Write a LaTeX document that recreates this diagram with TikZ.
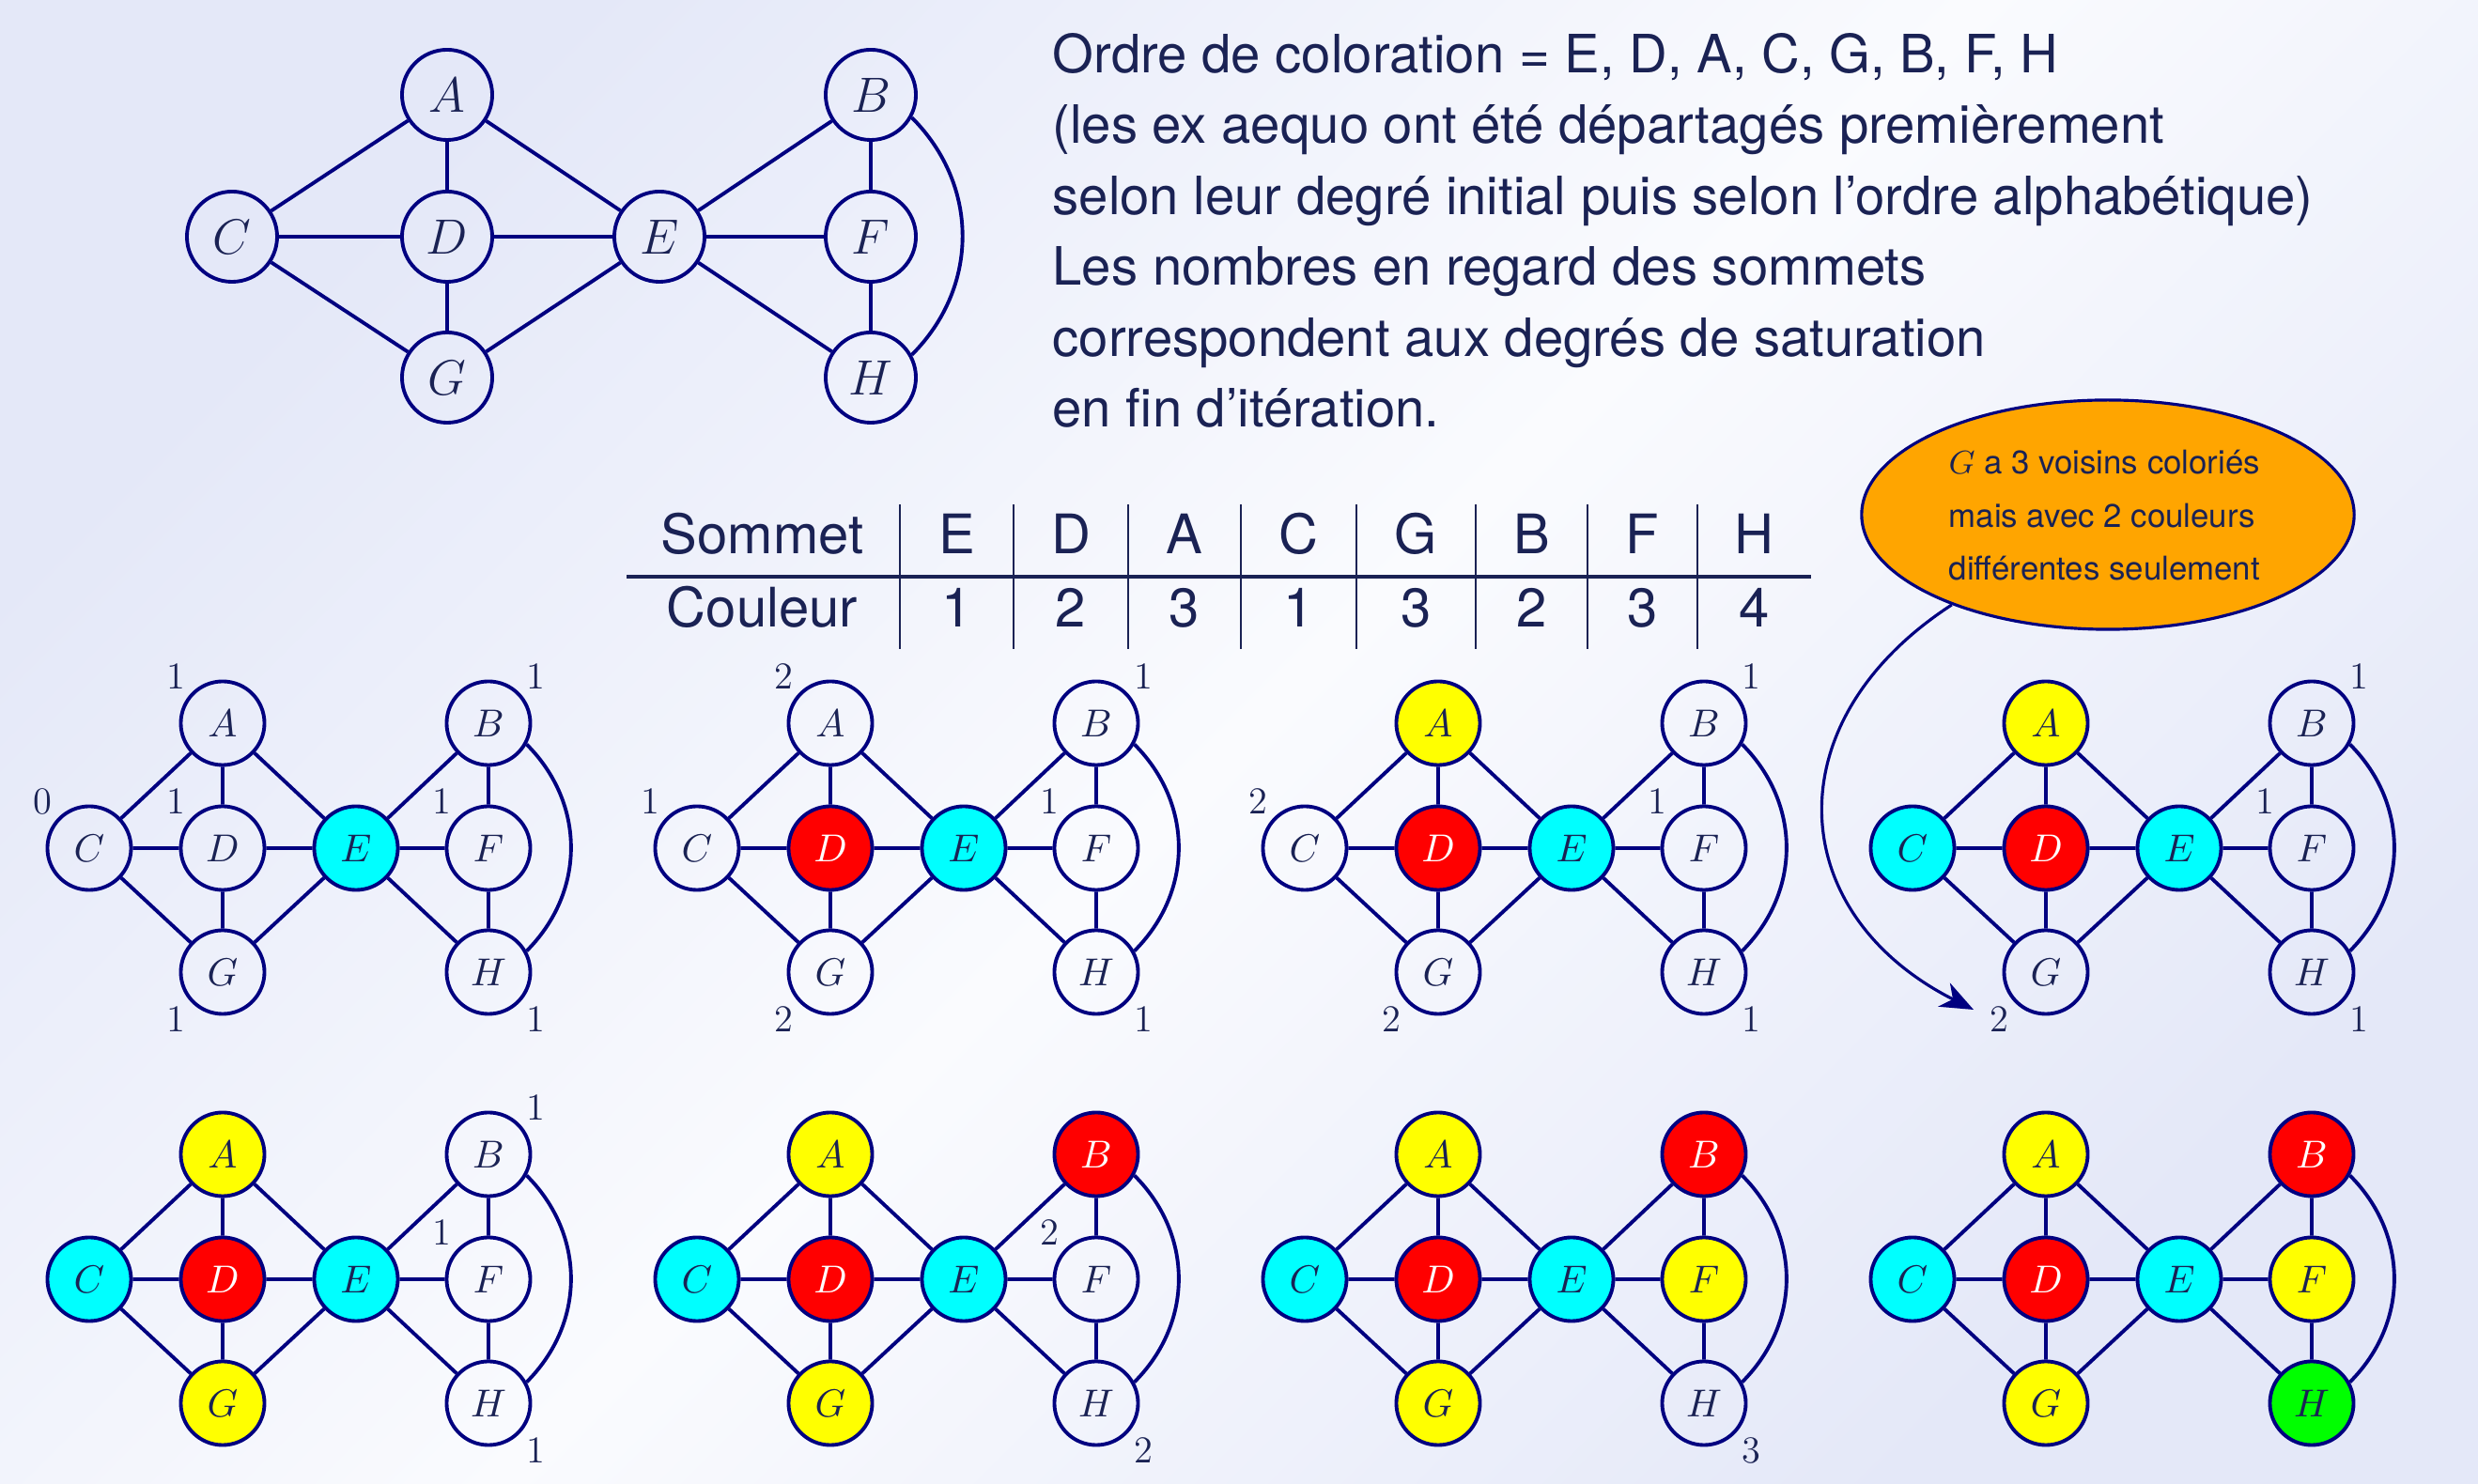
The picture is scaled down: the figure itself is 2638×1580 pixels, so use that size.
\RequirePackage{fix-cm}
\documentclass[tikz,border=0pt]{standalone}
\usepackage{fontspec}
\newfontfamily\helv{TeX Gyre Heros}
\usetikzlibrary{arrows.meta,shapes.geometric}
\definecolor{navyc}{RGB}{0,0,128}
\definecolor{txt}{RGB}{26,34,84}
\definecolor{bgc}{RGB}{228,232,248}
\definecolor{bgm}{RGB}{250,251,254}
\definecolor{orng}{RGB}{255,165,0}
\definecolor{cyanc}{RGB}{0,255,255}
\definecolor{yelc}{RGB}{255,255,0}
\definecolor{redc}{RGB}{255,0,0}
\definecolor{grnc}{RGB}{0,255,0}
\tikzset{
  sv/.style={circle, draw=navyc, line width=1.1pt, minimum size=0.89cm, inner sep=0pt, text=txt, font=\fontsize{11.8}{14}\selectfont},
  bv/.style={sv, minimum size=0.96cm, font=\fontsize{15}{18}\selectfont},
  arete/.style={draw=navyc, line width=1.1pt},
  w/.style={}, cy/.style={fill=cyanc}, rd/.style={fill=redc,text=white}, ye/.style={fill=yelc}, gr/.style={fill=grnc},
  dlab/.style={text=txt, font=\fontsize{11.5}{14}\selectfont, inner sep=0pt},
  ligne/.style={anchor=base west, text=txt, inner sep=0pt, font=\helv\fontsize{16}{20}\selectfont},
  cell/.style={anchor=base, text=txt, inner sep=0pt, font=\helv\fontsize{16.5}{20}\selectfont},
  bulle/.style={ellipse, draw=navyc, fill=orng, line width=0.9pt, minimum width=5.24cm, minimum height=2.44cm, inner sep=0pt},
  btxt/.style={anchor=base west, text=txt, inner sep=0pt, font=\helv\fontsize{9.9}{12}\selectfont},
  trait/.style={draw=txt, line width=0.55pt},
}
\newcommand\graphe[9]{%
  \node[sv,#2] (#1A) at (237,770) {$A$};
  \node[sv,#3] (#1B) at (520,770) {$B$};
  \node[sv,#4] (#1C) at (95,903) {$C$};
  \node[sv,#5] (#1D) at (237,903) {$D$};
  \node[sv,#6] (#1E) at (379,903) {$E$};
  \node[sv,#7] (#1F) at (520,903) {$F$};
  \node[sv,#8] (#1G) at (237,1035) {$G$};
  \node[sv,#9] (#1H) at (520,1035) {$H$};
  \draw[arete] (#1A) -- (#1C) (#1A) -- (#1D) (#1A) -- (#1E) (#1C) -- (#1D) (#1D) -- (#1E)
    (#1C) -- (#1G) (#1D) -- (#1G) (#1E) -- (#1G) (#1E) -- (#1B) (#1E) -- (#1F) (#1E) -- (#1H)
    (#1B) -- (#1F) (#1F) -- (#1H);
  \draw[arete] (#1B.-29) .. controls +(63,63) and +(63,-63) .. (#1H.29);
}
\begin{document}
\begin{tikzpicture}[x=0.01cm,y=-0.01cm]
\useasboundingbox (0,0) rectangle (2638,1580);
\shade[top color=bgc,bottom color=bgc,middle color=bgm,shading angle=45] (0,0) rectangle (2638,1580);

% top graph
\node[bv] (tA) at (476,101) {$A$};
\node[bv] (tB) at (927,101) {$B$};
\node[bv] (tC) at (247,252) {$C$};
\node[bv] (tD) at (476,252) {$D$};
\node[bv] (tE) at (702,252) {$E$};
\node[bv] (tF) at (927,252) {$F$};
\node[bv] (tG) at (476,402) {$G$};
\node[bv] (tH) at (927,402) {$H$};
\draw[arete] (tA) -- (tC) (tA) -- (tD) (tA) -- (tE) (tC) -- (tD) (tD) -- (tE)
  (tC) -- (tG) (tD) -- (tG) (tE) -- (tG) (tE) -- (tB) (tE) -- (tF) (tE) -- (tH)
  (tB) -- (tF) (tF) -- (tH);
\draw[arete] (tB.-29) .. controls +(72,72) and +(72,-72) .. (tH.29);

% text
\node[ligne] (l1) at (1120,78) {Ordre de coloration = E, D, A, C, G, B, F, H};
\node[ligne] (l2) at (1120,153) {(les ex aequo ont été départagés premièrement};
\node[ligne] (l3) at (1120,229) {selon leur degré initial puis selon l’ordre alphabétique)};
\node[ligne] (l4) at (1120,304) {Les nombres en regard des sommets};
\node[ligne] (l5) at (1120,380) {correspondent aux degrés de saturation};
\node[ligne] (l6) at (1120,455) {en fin d’itération.};

% table
\node[cell] (hS) at (811.5,590) {Sommet};
\node[cell] (h1) at (1018.5,590) {E};
\node[cell] (h2) at (1140,590) {D};
\node[cell] (h3) at (1261,590) {A};
\node[cell] (h4) at (1382.5,590) {C};
\node[cell] (h5) at (1507.5,590) {G};
\node[cell] (h6) at (1630.5,590) {B};
\node[cell] (h7) at (1748.5,590) {F};
\node[cell] (h8) at (1867.5,590) {H};
\node[cell] (cS) at (811.5,668) {Couleur};
\node[cell] (c1) at (1018.5,668) {1};
\node[cell] (c2) at (1140,668) {2};
\node[cell] (c3) at (1261,668) {3};
\node[cell] (c4) at (1382.5,668) {1};
\node[cell] (c5) at (1507.5,668) {3};
\node[cell] (c6) at (1630.5,668) {2};
\node[cell] (c7) at (1748.5,668) {3};
\node[cell] (c8) at (1867.5,668) {4};
\draw[draw=txt, line width=1.1pt] (667,614) -- (1928,614);
\foreach \x in {958,1079,1201,1321,1444,1571,1690,1807} \draw[trait] (\x,537) -- (\x,691);

% callout
\node[bulle] (bulle) at (2244,548) {};
\node[btxt] (b1) at (2074,505) {$G$ a 3 voisins coloriés};
\node[btxt] (b2) at (2074,562) {mais avec 2 couleurs};
\node[btxt] (b3) at (2074,618) {différentes seulement};
\coordinate (tip) at (2101,1075);
\draw[navyc, line width=0.9pt, -{Stealth[length=10pt,width=8pt,inset=3pt]}] (bulle.210) .. controls +(-191,124) and +(-202,-102) .. (tip);

% graph 1
\begin{scope}
\graphe{ga}{w}{w}{w}{w}{cy}{w}{w}{w}
\node[dlab] (daA) at (187,720) {1};
\node[dlab] (daB) at (570,720) {1};
\node[dlab] (daC) at (45,853) {0};
\node[dlab] (daD) at (187,853) {1};
\node[dlab] (daF) at (470,853) {1};
\node[dlab] (daG) at (187,1085) {1};
\node[dlab] (daH) at (570,1085) {1};
\end{scope}
% graph 2
\begin{scope}[shift={(647,0)}]
\graphe{gb}{w}{w}{w}{rd}{cy}{w}{w}{w}
\node[dlab] (dbA) at (187,720) {2};
\node[dlab] (dbB) at (570,720) {1};
\node[dlab] (dbC) at (45,853) {1};
\node[dlab] (dbF) at (470,853) {1};
\node[dlab] (dbG) at (187,1085) {2};
\node[dlab] (dbH) at (570,1085) {1};
\end{scope}
% graph 3
\begin{scope}[shift={(1294,0)}]
\graphe{gc}{ye}{w}{w}{rd}{cy}{w}{w}{w}
\node[dlab] (dcB) at (570,720) {1};
\node[dlab] (dcC) at (45,853) {2};
\node[dlab] (dcF) at (470,853) {1};
\node[dlab] (dcG) at (187,1085) {2};
\node[dlab] (dcH) at (570,1085) {1};
\end{scope}
% graph 4
\begin{scope}[shift={(1941,0)}]
\graphe{gd}{ye}{w}{cy}{rd}{cy}{w}{w}{w}
\node[dlab] (ddB) at (570,720) {1};
\node[dlab] (ddF) at (470,853) {1};
\node[dlab] (ddG) at (187,1085) {2};
\node[dlab] (ddH) at (570,1085) {1};
\end{scope}
% graph 5
\begin{scope}[shift={(0,459)}]
\graphe{ge}{ye}{w}{cy}{rd}{cy}{w}{ye}{w}
\node[dlab] (deB) at (570,720) {1};
\node[dlab] (deF) at (470,853) {1};
\node[dlab] (deH) at (570,1085) {1};
\end{scope}
% graph 6
\begin{scope}[shift={(647,459)}]
\graphe{gf}{ye}{rd}{cy}{rd}{cy}{w}{ye}{w}
\node[dlab] (dfF) at (470,853) {2};
\node[dlab] (dfH) at (570,1085) {2};
\end{scope}
% graph 7
\begin{scope}[shift={(1294,459)}]
\graphe{gg}{ye}{rd}{cy}{rd}{cy}{ye}{ye}{w}
\node[dlab] (dgH) at (570,1085) {3};
\end{scope}
% graph 8
\begin{scope}[shift={(1941,459)}]
\graphe{gh}{ye}{rd}{cy}{rd}{cy}{ye}{ye}{gr}
\end{scope}
\end{tikzpicture}
\end{document}
